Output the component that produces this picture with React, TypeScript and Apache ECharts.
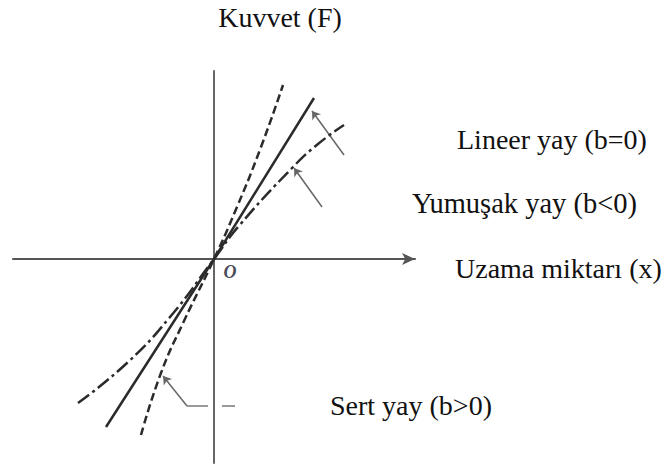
import React, { useEffect, useRef } from "react";
import * as echarts from "echarts";

// Spring force–extension curves, in plot units (origin at the axis crossing)
const linearSpring: number[][] = [[-108, -168], [0, 0], [100, 161]];
const hardSpring: number[][] = [[-73, -176], [-53, -114], [-30, -62], [0, 0], [23, 52], [47, 112], [69, 174]];
const softSpring: number[][] = [[-136, -144], [-87, -104], [-44, -58], [0, 0], [24, 32], [79, 92], [104, 115], [130, 134]];

// Axis extents
const xRange = [-201, 201];
const yRange = [-204, 188];

// Leader lines pointing from the labels to the curves
const arrowLeaders: number[][][] = [
  [[130, 104], [98, 148]],
  [[108, 52], [80, 91]],
  [[-27, -147], [-51, -117]],
];
const plainLeaders: number[][][] = [
  [[-6, -147], [-27, -147]],
  [[8, -147], [21, -147]],
];

// Texts
const forceLabel = "Kuvvet (F)";
const extensionLabel = "Uzama miktarı (x)";
const linearLabel = "Lineer yay (b=0)";
const softLabel = "Yumuşak yay (b<0)";
const hardLabel = "Sert yay (b>0)";
const originLabel = "O";

const SERIF = "'Liberation Serif', serif";
const INK = "#111";
const CURVE = "#2b2b2b";

export default function App() {
  const ref = useRef<HTMLDivElement>(null);

  useEffect(() => {
    if (!ref.current) return;
    const chart = echarts.init(ref.current, null, { renderer: "svg" });

    const text = (t: string, x: number, y: number, align: string = "left", size = 28) => ({
      type: "text",
      x,
      y,
      style: {
        text: t,
        fontFamily: SERIF,
        fontSize: size,
        fill: INK,
        align,
        verticalAlign: "middle",
      },
    });

    chart.setOption({
      animation: false,
      backgroundColor: "#ffffff",
      grid: { left: 13, right: 251, top: 71, bottom: 3, containLabel: false },
      xAxis: {
        type: "value",
        min: xRange[0],
        max: xRange[1],
        axisLine: {
          onZero: true,
          symbol: ["none", "arrow"],
          symbolSize: [9, 13],
          lineStyle: { color: "#555", width: 2 },
        },
        axisTick: { show: false },
        axisLabel: { show: false },
        splitLine: { show: false },
      },
      yAxis: {
        type: "value",
        min: yRange[0],
        max: yRange[1],
        axisLine: { onZero: true, lineStyle: { color: "#666", width: 2 } },
        axisTick: { show: false },
        axisLabel: { show: false },
        splitLine: { show: false },
      },
      series: [
        {
          type: "line",
          data: linearSpring,
          showSymbol: false,
          lineStyle: { color: CURVE, width: 2.5 },
        },
        {
          type: "line",
          data: hardSpring,
          smooth: true,
          showSymbol: false,
          lineStyle: { color: CURVE, width: 2.5, type: [8, 4] },
        },
        {
          type: "line",
          data: softSpring,
          smooth: true,
          showSymbol: false,
          lineStyle: { color: CURVE, width: 2.5, type: [14, 4, 3, 4] },
        },
        {
          type: "lines",
          coordinateSystem: "cartesian2d",
          symbol: ["none", "arrow"],
          symbolSize: 8,
          lineStyle: { color: "#666", width: 1.5, opacity: 1 },
          data: arrowLeaders.map((c) => ({ coords: c })),
        },
        {
          type: "lines",
          coordinateSystem: "cartesian2d",
          symbol: ["none", "none"],
          lineStyle: { color: "#777", width: 1.5, opacity: 1 },
          data: plainLeaders.map((c) => ({ coords: c })),
        },
      ],
      graphic: [
        text(forceLabel, 280, 17, "center"),
        text(linearLabel, 457, 139),
        text(softLabel, 412, 203, "left", 28.5),
        text(extensionLabel, 455, 268),
        text(hardLabel, 330, 405),
        {
          type: "text",
          x: 230,
          y: 272,
          style: {
            text: originLabel,
            fontFamily: SERIF,
            fontSize: 18,
            fontStyle: "italic",
            fontWeight: "bold",
            fill: "#4a4d5c",
            align: "center",
            verticalAlign: "middle",
          },
        },
      ],
    });

    return () => chart.dispose();
  }, []);

  return (
    <div
      ref={ref}
      style={{ position: "absolute", left: 0, top: 0, width: 666, height: 466 }}
    />
  );
}
